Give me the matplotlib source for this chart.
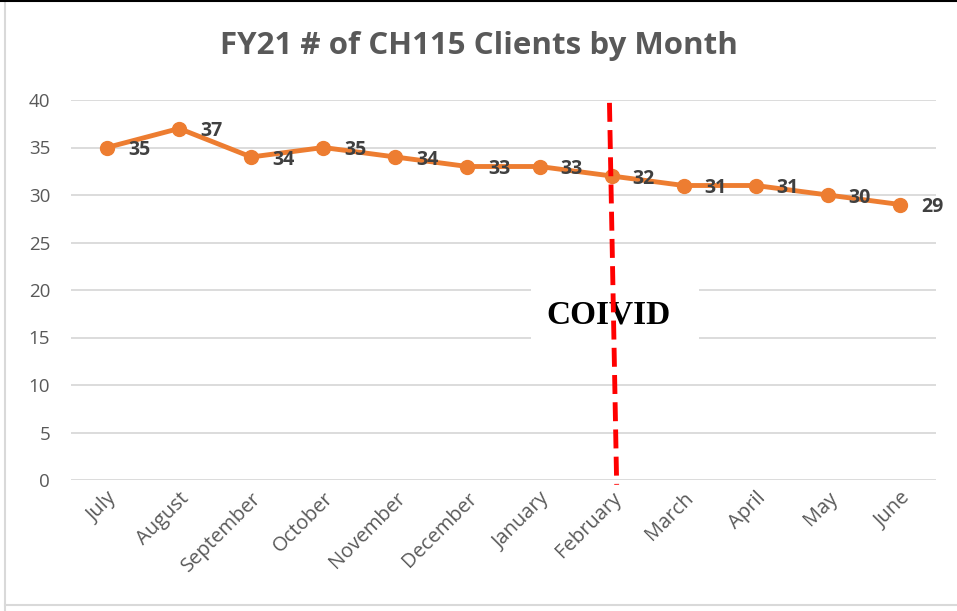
import matplotlib
matplotlib.use("Agg")
import matplotlib.pyplot as plt
from matplotlib.patches import Rectangle
from matplotlib.lines import Line2D
import matplotlib.transforms as mtransforms

months = ["July", "August", "September", "October", "November", "December",
          "January", "February", "March", "April", "May", "June"]
clients = [35, 37, 34, 35, 34, 33, 33, 32, 31, 31, 30, 29]
yticks = [0, 5, 10, 15, 20, 25, 30, 35, 40]
title = "FY21 # of CH115 Clients by Month"
annot = "COIVID"

fig = plt.figure(figsize=(9.57, 6.11), dpi=100)
ax = fig.add_axes([71/957, 1-480/611, (936-71)/957, 380/611])

x = list(range(len(months)))
ax.plot(x, clients, color="#ED7D31", lw=3.5, marker="o", ms=10, zorder=4,
        solid_capstyle="round")
for xi, v in zip(x, clients):
    ax.annotate(str(v), (xi, v), xytext=(15, -2), textcoords="offset points",
                ha="left", va="center", fontsize=14, fontweight="bold",
                color="#404040", family="Open Sans", zorder=5)

ax.set_xlim(-0.5, len(months) - 0.5)
ax.set_ylim(0, 40)
ax.set_yticks(yticks)
ax.set_yticklabels([str(t) for t in yticks], fontsize=13.5, color="#595959",
                   family="Open Sans")
ax.set_xticks(x)
ax.set_xticklabels(months, rotation=45, ha="right", va="top",
                   rotation_mode="anchor", fontsize=14.5, color="#595959",
                   family="Open Sans")
offset = mtransforms.ScaledTranslation(8/100, -7/100, fig.dpi_scale_trans)
for lab in ax.get_xticklabels():
    lab.set_transform(lab.get_transform() + offset)
ax.tick_params(axis="both", length=0)
ax.tick_params(axis="y", pad=15)
ax.tick_params(axis="x", pad=6)
ax.grid(axis="y", color="#D9D9D9", lw=1.3)
ax.set_axisbelow(True)
for s in ax.spines.values():
    s.set_visible(False)

# white box hiding gridlines behind annotation
ax.add_patch(Rectangle((5.88, 14.85), 8.21 - 5.88, 20.15 - 14.85,
                       facecolor="white", edgecolor="none", zorder=2))
ax.text(6.95, 17.4, annot, ha="center", va="center", fontsize=24,
        fontweight="bold", family="Liberation Serif", color="black", zorder=3)
ax.add_line(Line2D([6.97, 7.07], [39.7, -0.5], color="#FF0000", lw=3.5,
                   ls=(0, (3.9, 1.7)), zorder=6, clip_on=False))

fig.text(0.5, 1 - 46/611, title, ha="center", va="center", fontsize=22.5,
         fontweight="bold", color="#595959", family="Open Sans")

# outer frame
fig.add_artist(Line2D([5/957, 5/957], [0, 1], transform=fig.transFigure,
                      color="#D9D9D9", lw=1.5))
fig.add_artist(Line2D([5/957, 1], [1 - 605/611, 1 - 605/611],
                      transform=fig.transFigure, color="#D9D9D9", lw=1.5))
fig.add_artist(Line2D([0, 1], [1 - 1/611, 1 - 1/611],
                      transform=fig.transFigure, color="black", lw=1.5))

fig.savefig("out.png", dpi=100)
